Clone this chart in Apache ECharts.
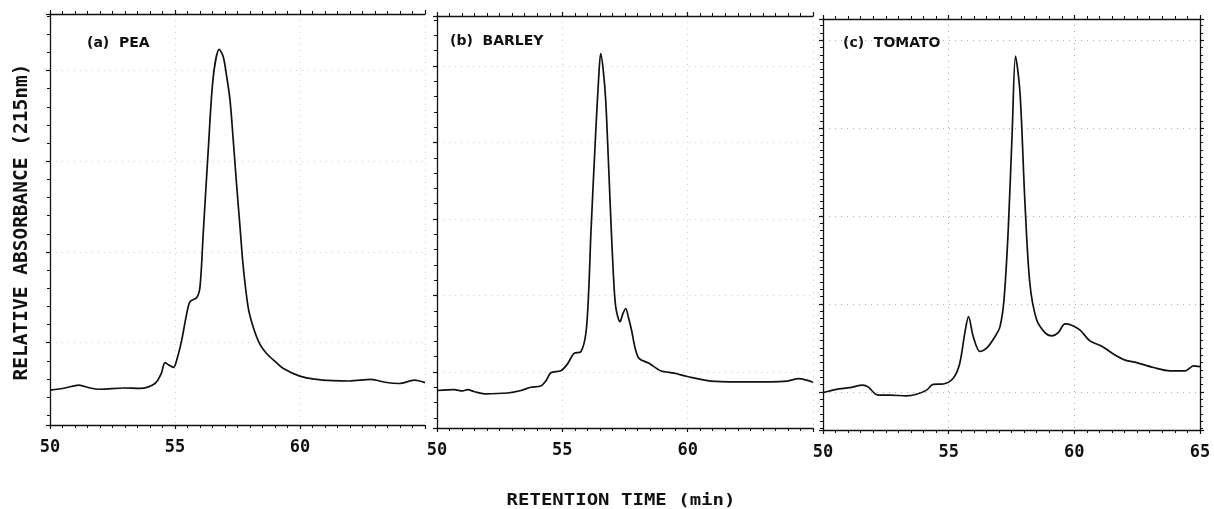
<!DOCTYPE html>
<html><head><meta charset="utf-8">
<script src="https://cdn.jsdelivr.net/npm/echarts@6/dist/echarts.min.js"></script>
<style>html,body{margin:0;padding:0;background:#fff}#c{width:1214px;height:509px}</style>
</head><body><div id="c"></div><script>
// x tick labels (retention time, min)
const xTickLabels = [50, 55, 60, 65];
const panelLabels = ['(a)  PEA', '(b)  BARLEY', '(c)  TOMATO'];
const yTitle = 'RELATIVE ABSORBANCE (215nm)';
const xTitle = 'RETENTION TIME (min)';

// (a) PEA
const peaTime = [50.0,50.6,51.15,51.6,52.0,52.95,53.6,54.2,54.45,54.6,54.75,54.94,55.1,55.27,55.45,55.6,55.87,56.0,56.13,56.33,56.53,56.77,56.93,57.07,57.2,57.33,57.46,57.6,57.73,57.93,58.13,58.4,58.66,59.0,59.32,59.99,60.65,61.3,61.98,62.84,63.4,63.97,64.57,65.0];
const peaAbs  = [8.5,9.0,9.7,9.0,8.7,9.0,8.9,10.1,12.5,15.2,14.6,14.0,16.5,20.7,26.5,30.0,31.0,33.6,46.7,66.9,84.7,91.4,89.6,84.7,79.1,69.3,58.8,48.2,38.5,28.5,23.8,19.6,17.4,15.5,13.8,11.9,11.1,10.8,10.7,11.1,10.4,10.1,10.9,10.3];

// (b) BARLEY
const barleyTime = [50.0,50.69,51.02,51.22,51.5,51.89,52.82,53.35,53.75,54.14,54.35,54.54,54.94,55.2,55.47,55.74,55.94,56.05,56.14,56.33,56.45,56.53,56.63,56.73,56.83,56.93,57.03,57.13,57.3,57.42,57.53,57.63,57.76,57.9,58.06,58.46,58.92,59.46,59.99,60.92,61.98,63.31,63.97,64.44,65.0];
const barleyAbs  = [9.1,9.3,9.0,9.3,8.8,8.3,8.5,9.1,9.9,10.2,11.5,13.4,13.9,15.5,18.1,18.5,23.0,33.0,47.3,71.5,85.0,90.9,87.0,79.6,66.0,51.3,38.0,29.4,25.8,27.8,29.0,27.0,23.8,19.5,16.9,15.7,13.9,13.3,12.5,11.4,11.2,11.2,11.4,12.0,11.1];

// (c) TOMATO
const tomatoTime = [50.0,50.53,51.06,51.59,51.79,52.19,52.66,53.32,53.72,54.12,54.38,54.78,55.18,55.44,55.64,55.79,55.98,56.24,56.51,56.84,57.04,57.2,57.37,57.53,57.66,57.84,58.03,58.23,58.5,58.83,59.1,59.36,59.63,59.89,60.23,60.62,61.09,61.55,62.02,62.48,63.15,63.81,64.41,64.74,65.0];
const tomatoAbs  = [9.1,9.9,10.3,10.9,10.5,8.5,8.5,8.3,8.7,9.7,11.1,11.2,12.6,16.2,23.5,27.6,22.7,19.1,19.9,22.7,25.1,31.6,48.7,73.0,91.0,81.9,56.0,35.7,26.8,23.7,22.9,23.7,25.8,25.5,24.3,21.7,20.4,18.5,17.0,16.4,15.2,14.4,14.4,15.6,15.4];

const panels = [
  {t: peaTime, v: peaAbs, left: 50, top: 14, width: 375, height: 411, gMin: -9.07, gMax: 36.24, minor: 5, showMax: false, right: false, lx: 87, ly: 43, grid: '#cfcfcf'},
  {t: barleyTime, v: barleyAbs, left: 437, top: 16, width: 376, height: 412, gMin: -7.32, gMax: 46.54, minor: 5, showMax: false, right: false, lx: 450, ly: 41, grid: '#cfcfcf'},
  {t: tomatoTime, v: tomatoAbs, left: 823, top: 19, width: 377, height: 411, gMin: -4.32, gMax: 42.4, minor: 12, showMax: true, right: true, lx: 843, ly: 43, grid: '#ababab'}
];

const black = '#111';
const grids = [], xAxes = [], yAxes = [], series = [], graphics = [];
panels.forEach((p, i) => {
  grids.push({left: p.left, top: p.top, width: p.width, height: p.height, containLabel: false});
  const base = {type: 'value', gridIndex: i, min: xTickLabels[0], max: xTickLabels[xTickLabels.length - 1], interval: 5};
  xAxes.push(Object.assign({}, base, {
    position: 'bottom',
    axisLine: {show: true, onZero: false, lineStyle: {color: black, width: 1.3}},
    axisTick: {show: true, length: 4, lineStyle: {color: black, width: 1.2}},
    minorTick: {show: true, splitNumber: 10, length: 3, lineStyle: {color: black, width: 1}},
    axisLabel: {show: true, margin: 14, color: black, fontFamily: 'DejaVu Sans Mono', fontWeight: 'bold', fontSize: 17,
      showMinLabel: true, showMaxLabel: p.showMax,
      formatter: v => xTickLabels.indexOf(v) >= 0 ? String(v) : ''},
    splitLine: {show: true, lineStyle: {color: p.grid, type: [1, 5], width: 1}}
  }));
  xAxes.push(Object.assign({}, base, {
    position: 'top',
    axisLine: {show: true, onZero: false, lineStyle: {color: black, width: 1.3}},
    axisTick: {show: true, length: 4, lineStyle: {color: black, width: 1.2}},
    minorTick: {show: true, splitNumber: 10, length: 3, lineStyle: {color: black, width: 1}},
    axisLabel: {show: false},
    splitLine: {show: false}
  }));
  // data axis (hidden)
  yAxes.push({type: 'value', gridIndex: i, min: 0, max: 100, show: false, splitLine: {show: false}});
  // left axis: ticks + faint grid
  yAxes.push({type: 'value', gridIndex: i, min: p.gMin, max: p.gMax, position: 'left',
    axisLine: {show: true, onZero: false, lineStyle: {color: black, width: 1.3}},
    axisTick: {show: true, length: 4, lineStyle: {color: black, width: 1.2}},
    minorTick: {show: true, splitNumber: p.minor, length: 3, lineStyle: {color: black, width: 1}},
    axisLabel: {show: false},
    splitLine: {show: true, lineStyle: {color: p.grid, type: [1, 5], width: 1}}
  });
  // right axis (only panel c)
  yAxes.push({type: 'value', gridIndex: i, min: p.gMin, max: p.gMax, position: 'right', show: p.right,
    axisLine: {show: true, onZero: false, lineStyle: {color: black, width: 1.3}},
    axisTick: {show: true, length: 4, lineStyle: {color: black, width: 1.2}},
    minorTick: {show: true, splitNumber: p.minor, length: 3, lineStyle: {color: black, width: 1}},
    axisLabel: {show: false},
    splitLine: {show: false}
  });
  series.push({type: 'line', xAxisIndex: 2 * i, yAxisIndex: 3 * i,
    data: p.t.map((t, k) => [t, p.v[k]]),
    showSymbol: false, smooth: 0.3,
    lineStyle: {color: black, width: 1.7, join: 'round'}, silent: true, animation: false});
  graphics.push({type: 'text', x: p.lx, y: p.ly,
    style: {text: panelLabels[i], fill: black, font: 'bold 14px "DejaVu Sans"', textAlign: 'left', textVerticalAlign: 'middle'}});
});

graphics.push({type: 'text', x: 22, y: 222, rotation: Math.PI / 2,
  style: {text: yTitle, fill: black, font: 'bold 19.5px "DejaVu Sans Mono"', textAlign: 'center', textVerticalAlign: 'middle'}});
graphics.push({type: 'text', x: 621, y: 501, scaleY: 0.88,
  style: {text: xTitle, fill: black, font: 'bold 19px "DejaVu Sans Mono"', textAlign: 'center', textVerticalAlign: 'middle'}});

const chart = echarts.init(document.getElementById('c'), null, {renderer: 'canvas'});
chart.setOption({
  backgroundColor: '#fff',
  animation: false,
  grid: grids, xAxis: xAxes, yAxis: yAxes, series: series,
  graphic: graphics
});
</script></body></html>
